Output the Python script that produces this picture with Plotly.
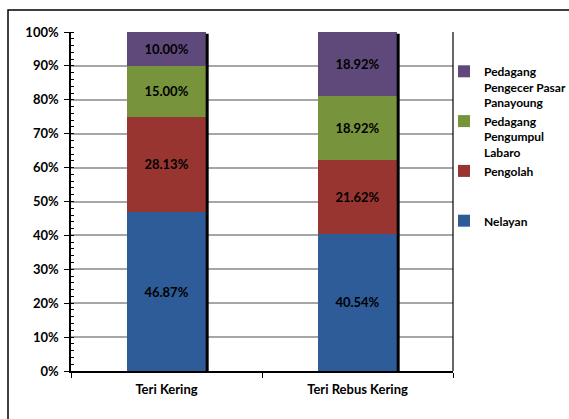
import plotly.graph_objects as go

categories = ["Teri Kering", "Teri Rebus Kering"]
series_names = ["Nelayan", "Pengolah<br> <br> ", "Pedagang<br>Pengumpul<br>Labaro", "Pedagang<br>Pengecer Pasar<br>Panayoung"]
nelayan = [46.87, 40.54]
pengolah = [28.13, 21.62]
pengumpul = [15.00, 18.92]
pengecer = [10.00, 18.92]
colors = ["#2D5C98", "#983530", "#77933C", "#5F497A"]
y_ticks = [0, 10, 20, 30, 40, 50, 60, 70, 80, 90, 100]
y_tick_text = [f"{v}%" for v in y_ticks]

series_values = [nelayan, pengolah, pengumpul, pengecer]
FONT = "Lato"

fig = go.Figure()
for name, vals, col in zip(series_names, series_values, colors):
    fig.add_trace(go.Bar(
        x=categories, y=vals, name=name,
        marker=dict(color=col, line=dict(width=0)),
        texttemplate="%{y:.2f}%", textposition="inside",
        insidetextanchor="middle", constraintext="none",
        textfont=dict(family=FONT, size=13, color="black", weight="bold"),
    ))

bar_width = 0.41
totals = [sum(v[i] for v in series_values) for i in range(len(categories))]
for i, tot in enumerate(totals):
    fig.add_shape(type="line", xref="x", yref="y",
                  x0=i + bar_width / 2 + 0.008, x1=i + bar_width / 2 + 0.008,
                  y0=0, y1=tot - 0.5, line=dict(color="black", width=3))

# outer chart border
L, R, T, B = 71, 116, 32, 48
W, H = 569, 419
pw, ph = W - L - R, H - T - B
fig.add_shape(type="rect", xref="paper", yref="paper",
              x0=(8 - L) / pw, x1=(580 - L) / pw,
              y0=-(430 - (H - B)) / ph, y1=1 + (T - 10) / ph,
              line=dict(color="black", width=1.5), layer="below")
# plot-area right border
fig.add_shape(type="line", xref="paper", yref="paper", x0=1, x1=1, y0=0, y1=1,
              line=dict(color="black", width=1.2))

fig.update_layout(
    width=W, height=H,
    margin=dict(l=L, r=R, t=T, b=B, autoexpand=False),
    barmode="stack", bargap=1 - bar_width,
    paper_bgcolor="white", plot_bgcolor="white",
    font=dict(family=FONT, size=13, color="black", weight="bold"),
    legend=dict(traceorder="reversed", xref="container", yref="container",
                x=444 / W, y=1 - 57 / H, xanchor="left", yanchor="top",
                valign="top", font=dict(family=FONT, size=12, weight="bold"),
                bgcolor="rgba(0,0,0,0)",
                itemwidth=30, tracegroupgap=0),
    xaxis=dict(showline=True, linecolor="black", linewidth=1.5,
               ticks="outside", tickson="boundaries", ticklen=5, tickcolor="black",
               ticklabelstandoff=6,
               showgrid=False, tickfont=dict(family=FONT, size=13, weight="bold")),
    yaxis=dict(range=[0, 100], tickvals=y_ticks, ticktext=y_tick_text,
               showline=True, linecolor="black", linewidth=1.5,
               ticks="outside", ticklen=5, tickcolor="black", ticklabelstandoff=3,
               showgrid=True, gridcolor="#A6A6A6", gridwidth=1.5,
               minor=dict(ticks="inside", dtick=2, ticklen=3, tickcolor="black", showgrid=False),
               tickfont=dict(family=FONT, size=13, weight="bold")),
)

fig.write_html("out.html")
